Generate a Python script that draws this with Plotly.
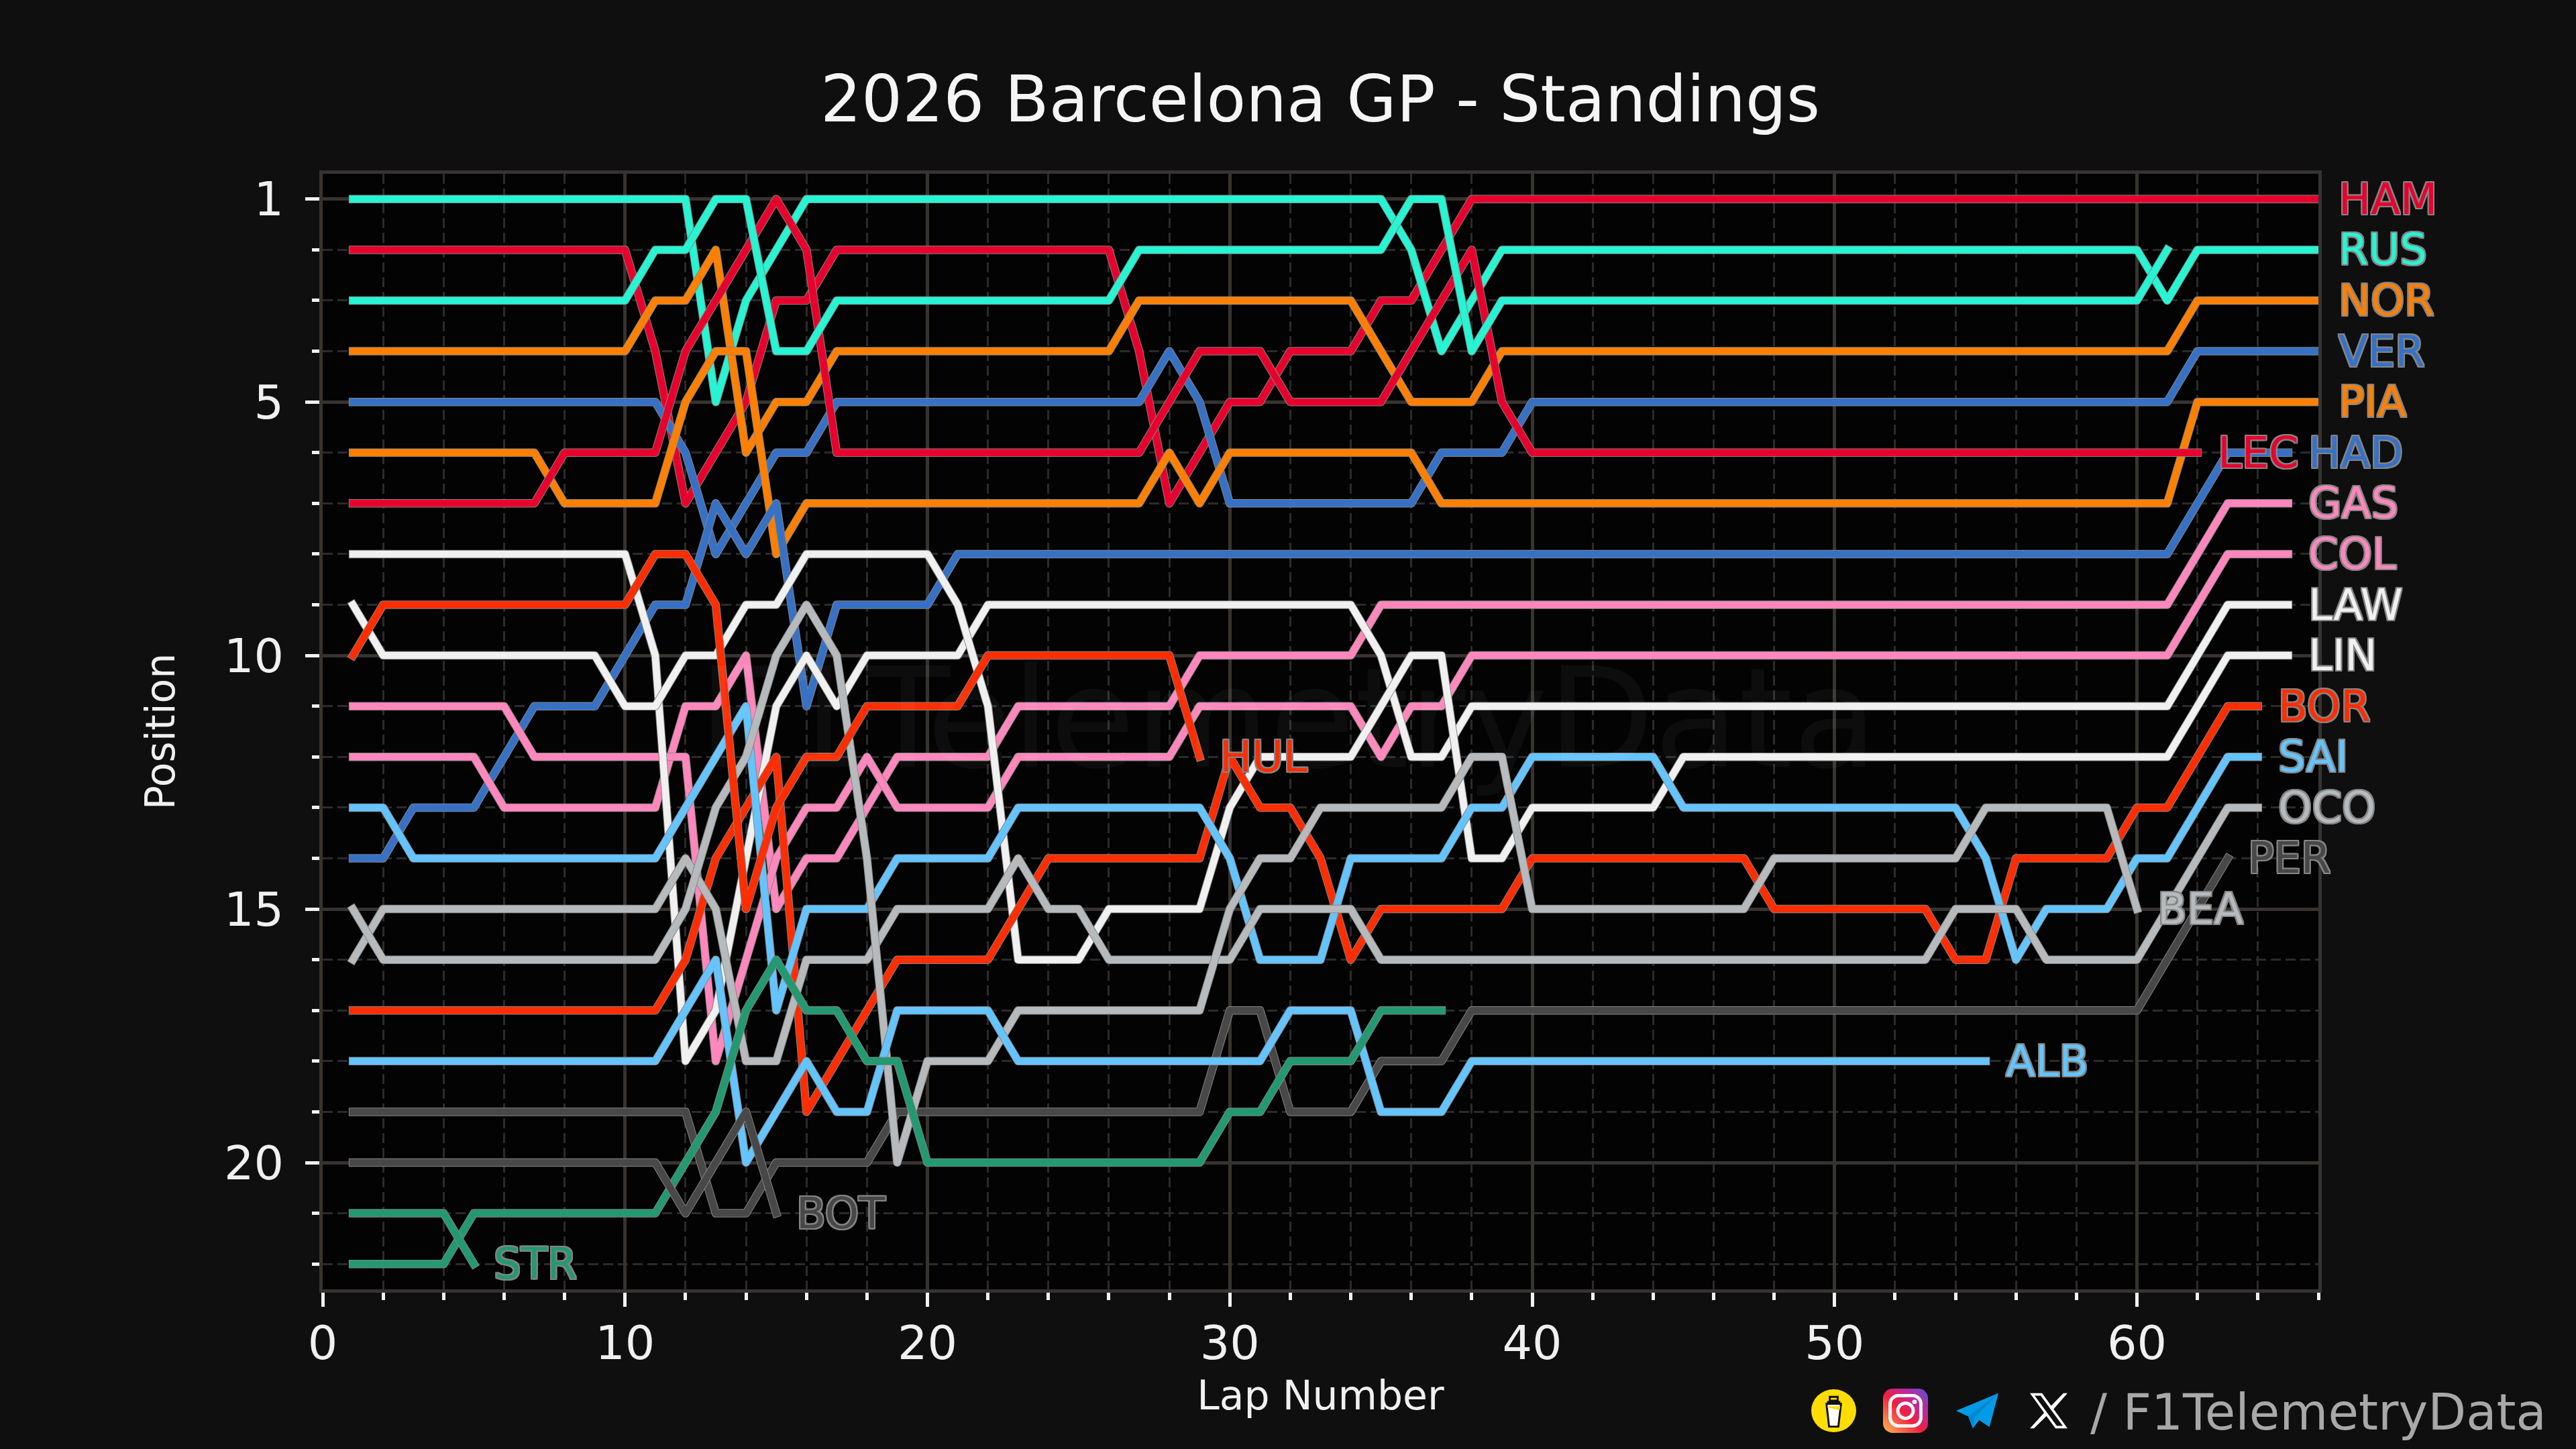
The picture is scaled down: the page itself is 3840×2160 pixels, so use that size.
import base64
import plotly.graph_objects as go

# ===== Lap by lap positions =====
HAM = [2,2,2,2,2,2,2,2,2,2, 4,7,6,5,3,3,2,2,2,2, 2,2,2,2,2,2,4,7,6,5, 5,4,4,4,3,3,2,1,1,1,
       1,1,1,1,1,1,1,1,1,1, 1,1,1,1,1,1,1,1,1,1, 1,1,1,1,1,1]
RUS = [1,1,1,1,1,1,1,1,1,1, 1,1,5,3,2,1,1,1,1,1, 1,1,1,1,1,1,1,1,1,1, 1,1,1,1,1,2,4,3,2,2,
       2,2,2,2,2,2,2,2,2,2, 2,2,2,2,2,2,2,2,2,2, 3,2,2,2,2,2]
NOR = [4,4,4,4,4,4,4,4,4,4, 3,3,2,6,5,5,4,4,4,4, 4,4,4,4,4,4,3,3,3,3, 3,3,3,3,4,5,5,5,4,4,
       4,4,4,4,4,4,4,4,4,4, 4,4,4,4,4,4,4,4,4,4, 4,3,3,3,3,3]
VER = [5,5,5,5,5,5,5,5,5,5, 5,6,8,7,6,6,5,5,5,5, 5,5,5,5,5,5,5,4,5,7, 7,7,7,7,7,7,6,6,6,5,
       5,5,5,5,5,5,5,5,5,5, 5,5,5,5,5,5,5,5,5,5, 5,4,4,4,4,4]
PIA = [6,6,6,6,6,6,6,7,7,7, 7,5,4,4,8,7,7,7,7,7, 7,7,7,7,7,7,7,6,7,6, 6,6,6,6,6,6,7,7,7,7,
       7,7,7,7,7,7,7,7,7,7, 7,7,7,7,7,7,7,7,7,7, 7,5,5,5,5,5]
HAD = [14,14,13,13,13,12,11,11,11,10, 9,9,7,8,7,11,9,9,9,9, 8,8,8,8,8,8,8,8,8,8, 8,8,8,8,8,8,8,8,8,8,
       8,8,8,8,8,8,8,8,8,8, 8,8,8,8,8,8,8,8,8,8, 8,7,6,6,6]
GAS = [12,12,12,12,12,13,13,13,13,13, 13,11,11,10,15,14,14,13,12,12, 12,12,11,11,11,11,11,11,10,10,
       10,10,10,10,9,9,9,9,9,9, 9,9,9,9,9,9,9,9,9,9, 9,9,9,9,9,9,9,9,9,9, 9,8,7,7,7]
COL = [11,11,11,11,11,11,12,12,12,12, 12,12,18,16,14,13,13,12,13,13, 13,13,12,12,12,12,12,12,11,11,
       11,11,11,11,12,11,11,10,10,10, 10,10,10,10,10,10,10,10,10,10, 10,10,10,10,10,10,10,10,10,10, 10,9,8,8,8]
LAW = [8,8,8,8,8,8,8,8,8,8, 10,18,17,14,11,10,11,10,10,10, 10,9,9,9,9,9,9,9,9,9,
       9,9,9,9,10,12,12,11,11,11, 11,11,11,11,11,11,11,11,11,11, 11,11,11,11,11,11,11,11,11,11, 11,10,9,9,9]
LIN = [9,10,10,10,10,10,10,10,10,11, 11,10,10,9,9,8,8,8,8,8, 9,11,16,16,16,15,15,15,15,13,
       12,12,12,12,11,10,10,14,14,13, 13,13,13,13,12,12,12,12,12,12, 12,12,12,12,12,12,12,12,12,12, 12,11,10,10,10]
BOR = [17,17,17,17,17,17,17,17,17,17, 17,16,14,13,12,19,18,17,16,16, 16,16,15,14,14,14,14,14,14,12,
       13,13,14,16,15,15,15,15,15,14, 14,14,14,14,14,14,14,15,15,15, 15,15,15,16,16,14,14,14,14,13, 13,12,11,11]
SAI = [13,13,14,14,14,14,14,14,14,14, 14,13,12,11,17,15,15,15,14,14, 14,14,13,13,13,13,13,13,13,14,
       16,16,16,14,14,14,14,13,13,12, 12,12,12,12,13,13,13,13,13,13, 13,13,13,13,14,16,15,15,15,14, 14,13,12,12]
OCO = [16,15,15,15,15,15,15,15,15,15, 15,14,15,18,18,16,16,16,15,15, 15,15,14,15,15,16,16,16,16,16,
       15,15,15,15,16,16,16,16,16,16, 16,16,16,16,16,16,16,16,16,16, 16,16,16,15,15,15,16,16,16,16, 15,14,13,13]
PER = [19,19,19,19,19,19,19,19,19,19, 19,19,21,21,20,20,20,20,19,19, 19,19,19,19,19,19,19,19,19,17,
       17,19,19,19,18,18,18,17,17,17, 17,17,17,17,17,17,17,17,17,17, 17,17,17,17,17,17,17,17,17,17, 16,15,14]
LEC = [7,7,7,7,7,7,7,6,6,6, 6,4,3,2,1,2,6,6,6,6, 6,6,6,6,6,6,6,5,4,4, 4,5,5,5,5,4,3,2,5,6,
       6,6,6,6,6,6,6,6,6,6, 6,6,6,6,6,6,6,6,6,6, 6,6]
ANT = [3,3,3,3,3,3,3,3,3,3, 2,2,1,1,4,4,3,3,3,3, 3,3,3,3,3,3,2,2,2,2, 2,2,2,2,2,1,1,4,3,3,
       3,3,3,3,3,3,3,3,3,3, 3,3,3,3,3,3,3,3,3,3, 2]
BEA = [15,16,16,16,16,16,16,16,16,16, 16,15,13,12,10,9,10,14,20,18, 18,18,17,17,17,17,17,17,17,15,
       14,14,13,13,13,13,13,12,12,15, 15,15,15,15,15,15,15,14,14,14, 14,14,14,14,13,13,13,13,13,15]
ALB = [18,18,18,18,18,18,18,18,18,18, 18,17,16,20,19,18,19,19,17,17, 17,17,18,18,18,18,18,18,18,18,
       18,17,17,17,19,19,19,18,18,18, 18,18,18,18,18,18,18,18,18,18, 18,18,18,18,18]
ALO = [22,22,22,22,21,21,21,21,21,21, 21,20,19,17,16,17,17,18,18,20, 20,20,20,20,20,20,20,20,20,19,
       19,18,18,18,17,17,17]
HUL = [10,9,9,9,9,9,9,9,9,9, 8,8,9,15,13,12,12,11,11,11, 11,10,10,10,10,10,10,10,12]
BOT = [20,20,20,20,20,20,20,20,20,20, 20,21,20,19,21]
STR = [21,21,21,21,22]

# drawing order is the finishing order, later drivers end up on top
drivers = ['HAM', 'RUS', 'NOR', 'VER', 'PIA', 'HAD', 'GAS', 'COL', 'LAW', 'LIN', 'BOR', 'SAI',
           'OCO', 'PER', 'LEC', 'ANT', 'BEA', 'ALB', 'ALO', 'HUL', 'BOT', 'STR']
positions = [HAM, RUS, NOR, VER, PIA, HAD, GAS, COL, LAW, LIN, BOR, SAI,
             OCO, PER, LEC, ANT, BEA, ALB, ALO, HUL, BOT, STR]
no_label = ['ANT', 'ALO']

y_major = [1, 5, 10, 15, 20]
y_minor = [2, 3, 4, 6, 7, 8, 9, 11, 12, 13, 14, 16, 17, 18, 19, 21, 22]
x_major = [0, 10, 20, 30, 40, 50, 60]
x_minor = [2, 4, 6, 8, 12, 14, 16, 18, 22, 24, 26, 28, 32, 34, 36, 38, 42, 44, 46, 48, 52, 54, 56, 58, 62, 64, 66]

colors = {'HAM': '#e8002d', 'LEC': '#e8002d', 'RUS': '#27f4d2', 'ANT': '#27f4d2',
          'NOR': '#ff8000', 'PIA': '#ff8000', 'VER': '#3671c6', 'HAD': '#3671c6',
          'GAS': '#ff87bc', 'COL': '#ff87bc', 'LAW': '#f0f0f0', 'LIN': '#f0f0f0',
          'BOR': '#ff2d00', 'HUL': '#ff2d00', 'SAI': '#64c4ff', 'ALB': '#64c4ff',
          'OCO': '#b6babd', 'BEA': '#b6babd', 'PER': '#484848', 'BOT': '#484848',
          'ALO': '#229971', 'STR': '#229971'}

FONT = 'DejaVu Sans'
PAPER = '#0f0f10'
OUTLINE = '#858585'
GRID = '#37332f'
GRID_MINOR = '#2b2b2b'

# plot area in page pixels, used for margins and footer placement
L, R, T, B = 481, 3456, 259, 1922
W, H = 3840, 2160


def px_x(px):
    return (px - L) / (R - L)


def px_y(py):
    return (B - py) / (B - T)


def svg_uri(svg):
    return 'data:image/svg+xml;base64,' + base64.b64encode(svg.encode()).decode()


# ===== Build the figure =====
fig = go.Figure()
for name, pos in zip(drivers, positions):
    laps = list(range(1, len(pos) + 1))
    # grey edge first, the coloured line on top of it
    fig.add_trace(go.Scatter(x=laps, y=pos, mode='lines', name=name, showlegend=False, hoverinfo='skip',
                             line=dict(color=OUTLINE, width=12.5)))
    fig.add_trace(go.Scatter(x=laps, y=pos, mode='lines', name=name, showlegend=False,
                             line=dict(color=colors[name], width=10.5)))

# watermark
annotations = [dict(text='F1TelemetryData', xref='paper', yref='paper', x=px_x(1920), y=px_y(1072),
                    showarrow=False, font=dict(family=FONT, size=206, color='rgba(255,255,255,0.045)'))]

for name, pos in zip(drivers, positions):
    if name in no_label:
        continue
    shadow = ', '.join(f'{a}px {b}px 0 {OUTLINE}' for a, b in [(2, 0), (-2, 0), (0, 2), (0, -2), (2, 2), (-2, -2), (2, -2), (-2, 2)])
    annotations.append(dict(text=name, x=len(pos), y=pos[-1], xref='x', yref='y', xanchor='left', yanchor='middle',
                            xshift=28, showarrow=False,
                            font=dict(family=FONT, size=64, color=colors[name], shadow=shadow)))

# footer handle
annotations.append(dict(text='/ F1TelemetryData', xref='paper', yref='paper', x=px_x(3798), y=px_y(2105),
                        xanchor='right', yanchor='middle', showarrow=False,
                        font=dict(family=FONT, size=74, color='#a8a8a8')))

coffee = ('<svg xmlns="http://www.w3.org/2000/svg" viewBox="0 0 70 70"><circle cx="35" cy="35" r="34" fill="#ffdd00"/>'
          '<path d="M24 24 L46 24 L42 60 L28 60 Z" fill="#fff" stroke="#111" stroke-width="3"/>'
          '<path d="M25 22 h20" stroke="#111" stroke-width="5"/><path d="M29 13 h12 v6 h-12 z" fill="#ffdd00" stroke="#111" stroke-width="3"/>'
          '<path d="M26 30 L44 34 L45 28 L25 28 Z" fill="#ffdd00"/></svg>')
insta = ('<svg xmlns="http://www.w3.org/2000/svg" viewBox="0 0 70 70"><defs><linearGradient id="g" x1="0" y1="1" x2="1" y2="0">'
         '<stop offset="0" stop-color="#fec053"/><stop offset="0.45" stop-color="#f2203e"/><stop offset="0.75" stop-color="#b729a8"/>'
         '<stop offset="1" stop-color="#5258cf"/></linearGradient></defs><rect width="70" height="70" rx="15" fill="url(#g)"/>'
         '<rect x="11" y="11" width="48" height="48" rx="13" fill="none" stroke="#fff" stroke-width="5"/>'
         '<circle cx="35" cy="35" r="12" fill="none" stroke="#fff" stroke-width="5"/><circle cx="49" cy="21" r="3.5" fill="#fff"/></svg>')
telegram = ('<svg xmlns="http://www.w3.org/2000/svg" viewBox="0 0 70 60"><path d="M68 2 L2 30 L21 39 L28 58 L38 45 L54 56 Z" fill="#039be5"/>'
            '<path d="M68 2 L21 39 L28 58 L31 41 Z" fill="#0288d1"/></svg>')
x_logo = ('<svg xmlns="http://www.w3.org/2000/svg" viewBox="0 0 60 60"><path d="M2 2 H20 L58 58 H40 Z M9 6 L42 54 H51 L18 6 Z" fill="#fff" fill-rule="evenodd"/>'
          '<path d="M52 2 H58 L35 30 L31 25 Z M2 58 H8 L29 36 L25 31 Z" fill="#fff"/></svg>')
icons = [(coffee, 2699, 2070, 69, 66), (insta, 2807, 2070, 67, 66), (telegram, 2914, 2075, 67, 56), (x_logo, 3024, 2075, 60, 56)]
images = [dict(source=svg_uri(s), xref='paper', yref='paper', x=px_x(ix), y=px_y(iy), sizex=iw / (R - L), sizey=ih / (B - T),
               xanchor='left', yanchor='top', sizing='stretch', layer='above') for s, ix, iy, iw, ih in icons]

axis_style = dict(showline=True, mirror=True, linecolor=GRID, linewidth=5, zeroline=False,
                  showgrid=True, gridcolor=GRID, gridwidth=5,
                  ticks='outside', tickcolor='#f2f2f2', ticklen=21, tickwidth=5,
                  tickfont=dict(family=FONT, size=70, color='#f0f0f0'))
minor_style = dict(ticks='outside', ticklen=11, tickwidth=5, tickcolor='#f2f2f2',
                   showgrid=True, gridcolor=GRID_MINOR, griddash='15px,7px', gridwidth=3)

fig.update_layout(
    width=W, height=H,
    margin=dict(l=L, r=W - R, t=T, b=H - B, autoexpand=False),
    paper_bgcolor=PAPER, plot_bgcolor='#030303', showlegend=False,
    title=dict(text='2026 Barcelona GP - Standings', x=px_x(1968), xref='paper', xanchor='center',
               y=1 - 147 / H, yanchor='middle', font=dict(family=FONT, size=96, color='#f5f5f5')),
    annotations=annotations, images=images,
    xaxis=dict(range=[0, 66], tickvals=x_major, ticktext=[str(v) for v in x_major], ticklabelstandoff=-6,
               minor=dict(tickvals=x_minor, **minor_style),
               title=dict(text='Lap Number', font=dict(family=FONT, size=60, color='#f0f0f0'), standoff=18), **axis_style),
    yaxis=dict(range=[22.5, 0.5], tickvals=y_major, ticktext=[str(v) for v in y_major], ticklabelstandoff=18,
               minor=dict(tickvals=y_minor, **minor_style),
               title=dict(text='Position', font=dict(family=FONT, size=60, color='#f0f0f0'), standoff=55), **axis_style),
)

# square line ends and no page margin, same as the reference look
post = ("document.body.style.margin='0';"
        "var s=document.createElement('style');"
        "s.textContent='.js-line{stroke-linecap:square !important;stroke-linejoin:round !important}';"
        "document.head.appendChild(s);")
fig.write_html("out.html", post_script=post, config=dict(displayModeBar=False))
